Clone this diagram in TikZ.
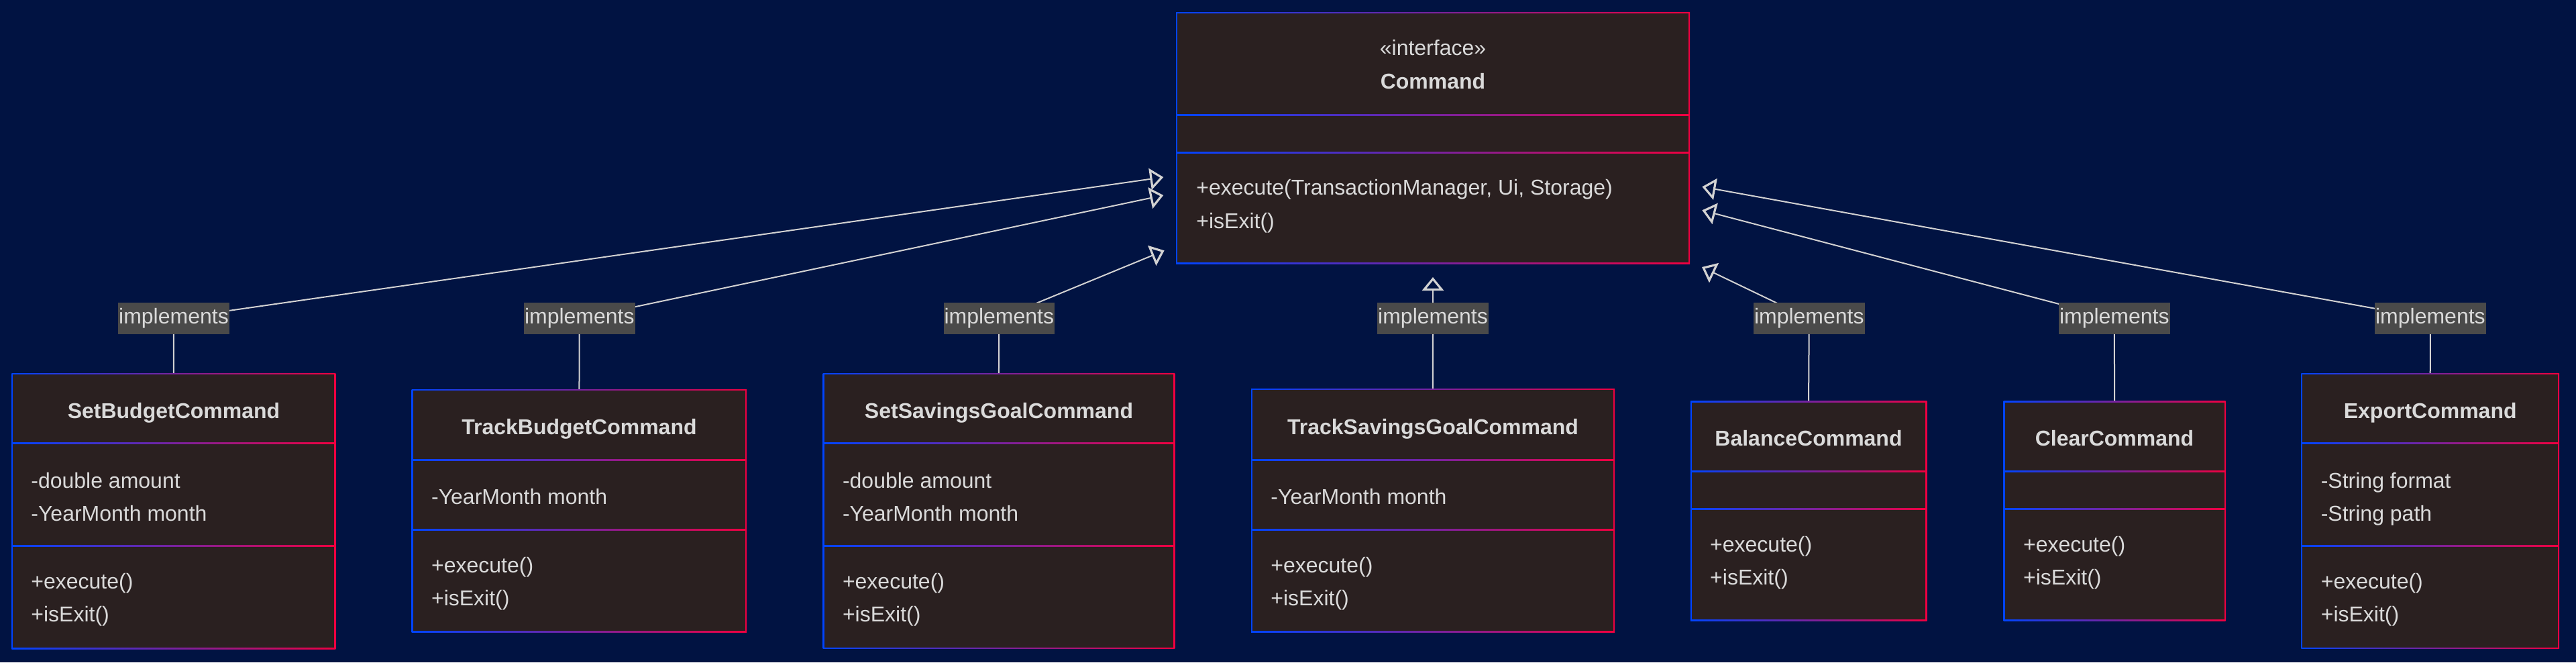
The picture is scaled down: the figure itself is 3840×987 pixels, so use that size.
\documentclass[tikz,border=0pt]{standalone}
\usepackage{fontspec}
\setmainfont{Liberation Sans}
\usetikzlibrary{arrows.meta,fit}
\definecolor{bgc}{RGB}{1,19,66}
\definecolor{boxfill}{RGB}{42,32,32}
\definecolor{lblfill}{RGB}{74,74,74}
\definecolor{txtc}{RGB}{218,218,218}
\definecolor{linec}{RGB}{210,210,210}
\definecolor{bdl}{RGB}{0,68,255}
\definecolor{bdr}{RGB}{240,0,64}
\pgfdeclarelayer{bg}
\pgfdeclarelayer{edges}
\pgfsetlayers{bg,edges,main}
% #1 name, #2 left, #3 right, #4 top, #5 sep1, #6 sep2, #7 bottom
\newcommand{\classbox}[7]{%
  \shade[left color=bdl, right color=bdr] (#2-1,#4-1) rectangle (#3+1,#7+1);
  \fill[boxfill] (#2+1,#4+1) rectangle (#3-1,#7-1);
  \shade[left color=bdl, right color=bdr] (#2,#5-1) rectangle (#3,#5+1);
  \shade[left color=bdl, right color=bdr] (#2,#6-1) rectangle (#3,#6+1);
  \node[fit={(#2,#4) (#3,#7)}, inner sep=0pt] (#1) {};
}
\begin{document}
\begin{tikzpicture}[x=0.5pt,y=-0.5pt,
  txt/.style={anchor=base west,inner sep=0pt,text=txtc,font=\fontsize{16}{19}\selectfont},
  ttl/.style={anchor=base,inner sep=0pt,text=txtc,font=\fontsize{16}{19}\selectfont\bfseries},
  stereo/.style={anchor=base,inner sep=0pt,text=txtc,font=\fontsize{16}{19}\selectfont},
  lbl/.style={fill=lblfill,text=txtc,inner sep=0pt,minimum width=82.75pt,minimum height=23.75pt,font=\fontsize{16}{19}\selectfont},
  edge/.style={draw=linec,line width=1pt},
  impl/.style={edge,-{Triangle[open,length=10pt,width=16pt,line width=1.6pt]}}]
\begin{pgfonlayer}{bg}
\fill[bgc] (0,0) rectangle (3840,987);
\end{pgfonlayer}
\useasboundingbox (0,0) rectangle (3840,987);

% Command interface
\classbox{cmd}{1754}{2518}{19}{171}{227}{392}
\node[stereo] (cmdst) at (2136,82.7) {«interface»};
\node[ttl] (cmdt) at (2136,132.7) {Command};
\node[txt] (cmdm1) at (1783,290) {+execute(TransactionManager, Ui, Storage)};
\node[txt] (cmdm2) at (1783,340) {+isExit()};

% SetBudgetCommand
\classbox{sb}{18.4}{499.4}{557}{660.5}{813}{966}
\node[ttl] (sbt) at (259,623) {SetBudgetCommand};
\node[txt] (sba1) at (46,727) {-double amount};
\node[txt] (sba2) at (46,776) {-YearMonth month};
\node[txt] (sbm1) at (46,877) {+execute()};
\node[txt] (sbm2) at (46,926) {+isExit()};

% TrackBudgetCommand
\classbox{tb}{614.7}{1112.2}{581}{685}{789}{941.4}
\node[ttl] (tbt) at (863.5,647) {TrackBudgetCommand};
\node[txt] (tba1) at (642.7,751) {-YearMonth month};
\node[txt] (tbm1) at (642.7,853) {+execute()};
\node[txt] (tbm2) at (642.7,902.5) {+isExit()};

% SetSavingsGoalCommand
\classbox{ss}{1227.6}{1750.3}{557}{660.7}{813.6}{965.7}
\node[ttl] (sst) at (1489,623) {SetSavingsGoalCommand};
\node[txt] (ssa1) at (1255.6,727) {-double amount};
\node[txt] (ssa2) at (1255.6,776) {-YearMonth month};
\node[txt] (ssm1) at (1255.6,877) {+execute()};
\node[txt] (ssm2) at (1255.6,926) {+isExit()};

% TrackSavingsGoalCommand
\classbox{ts}{1866}{2405.8}{580}{685}{789}{941.4}
\node[ttl] (tst) at (2136,647) {TrackSavingsGoalCommand};
\node[txt] (tsa1) at (1894,751) {-YearMonth month};
\node[txt] (tsm1) at (1894,853) {+execute()};
\node[txt] (tsm2) at (1894,902.5) {+isExit()};

% BalanceCommand
\classbox{ba}{2520.8}{2871.3}{598.7}{702.5}{758}{924.3}
\node[ttl] (bat) at (2696,664.5) {BalanceCommand};
\node[txt] (bam1) at (2548.8,822) {+execute()};
\node[txt] (bam2) at (2548.8,871) {+isExit()};

% ClearCommand
\classbox{cl}{2987.7}{3316.5}{598.7}{702.5}{758}{924.3}
\node[ttl] (clt) at (3152,664.5) {ClearCommand};
\node[txt] (clm1) at (3015.7,822) {+execute()};
\node[txt] (clm2) at (3015.7,871) {+isExit()};

% ExportCommand
\classbox{ex}{3431.4}{3814}{557}{660.7}{813.6}{965.7}
\node[ttl] (ext) at (3622.7,623) {ExportCommand};
\node[txt] (exa1) at (3459.4,727) {-String format};
\node[txt] (exa2) at (3459.4,776) {-String path};
\node[txt] (exm1) at (3459.4,877) {+execute()};
\node[txt] (exm2) at (3459.4,926) {+isExit()};

% labels
\node[lbl] (l1) at (259,474.7) {implements};
\node[lbl] (l2) at (863.8,474.7) {implements};
\node[lbl] (l3) at (1489.3,474.7) {implements};
\node[lbl] (l4) at (2136,474.7) {implements};
\node[lbl] (l5) at (2696.8,474.7) {implements};
\node[lbl] (l6) at (3151.8,474.7) {implements};
\node[lbl] (l7) at (3622.9,474.7) {implements};

% arrow tips near the interface
\coordinate (t1) at (1734.3,264);
\coordinate (t2) at (1734.3,291);
\coordinate (t3) at (1735.7,373.3);
\coordinate (t4) at (2136,413);
\coordinate (t5) at (2537,398);
\coordinate (t6) at (2537.3,313.3);
\coordinate (t7) at (2537.3,278.3);

\begin{pgfonlayer}{edges}
\draw[edge] (sb.north) -- (l1.center);
\draw[impl] (l1.center) -- (t1);
\draw[edge] (tb.north) -- (l2.center);
\draw[impl] (l2.center) -- (t2);
\draw[edge] (ss.north) -- (l3.center);
\draw[impl] (l3.center) -- (t3);
\draw[edge] (ts.north) -- (l4.center);
\draw[impl] (l4.center) -- (t4);
\draw[edge] (ba.north) -- (l5.center);
\draw[impl] (l5.center) -- (t5);
\draw[edge] (cl.north) -- (l6.center);
\draw[impl] (l6.center) -- (t6);
\draw[edge] (ex.north) -- (l7.center);
\draw[impl] (l7.center) -- (t7);
\end{pgfonlayer}
\end{tikzpicture}
\end{document}
